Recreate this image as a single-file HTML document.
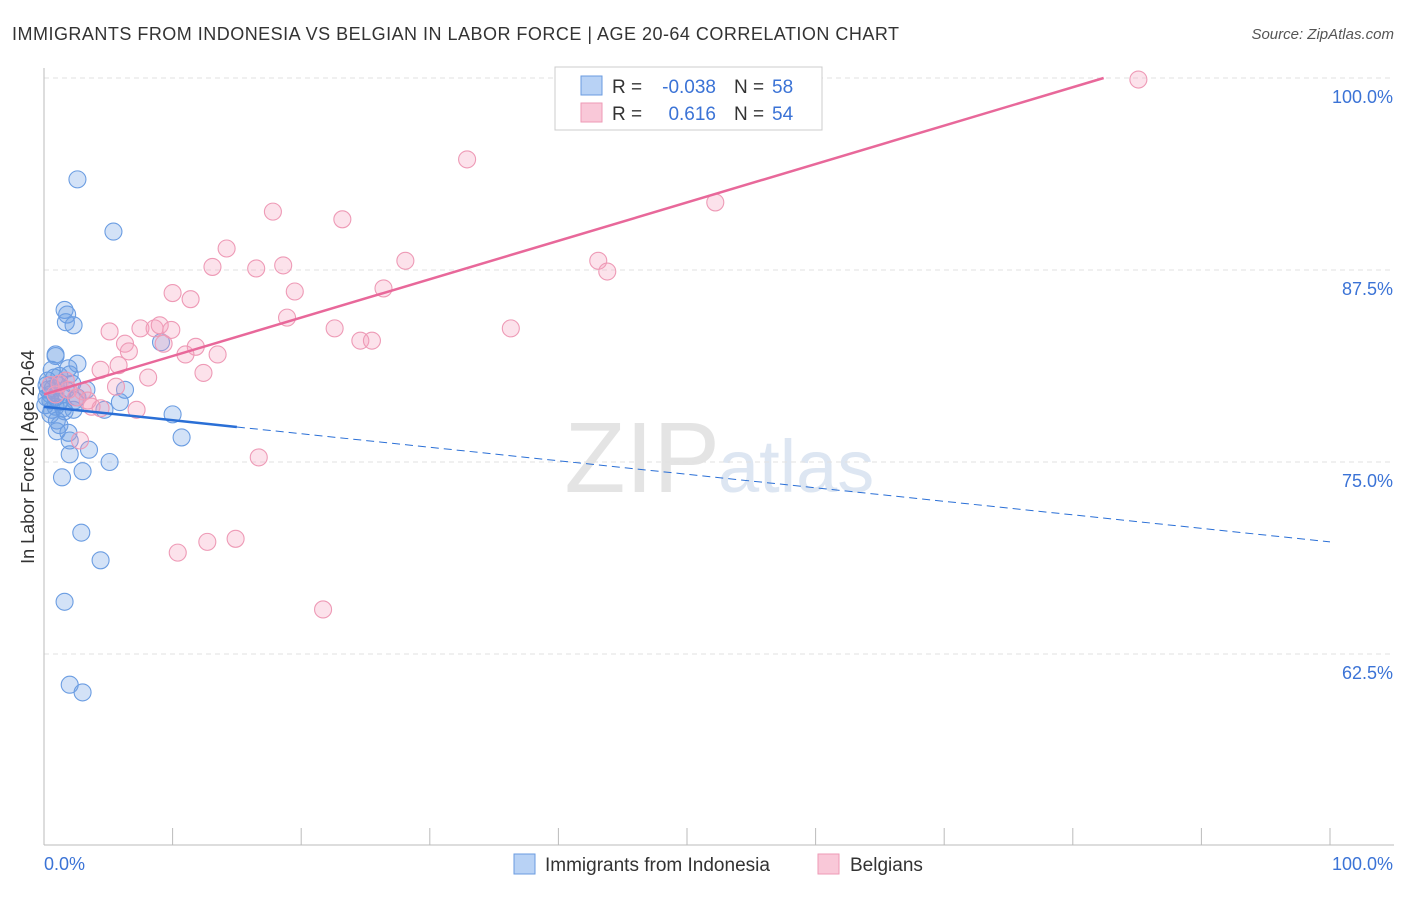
<!DOCTYPE html>
<html><head><meta charset="utf-8"><style>
body{margin:0;background:#fff;font-family:"Liberation Sans",sans-serif;}
svg text{font-family:"Liberation Sans",sans-serif;}
</style></head><body>
<svg id="chart" width="1406" height="892">
<text x="12" y="40" font-size="18" fill="#333" textLength="887">IMMIGRANTS FROM INDONESIA VS BELGIAN IN LABOR FORCE | AGE 20-64 CORRELATION CHART</text>
<text x="1394" y="39" font-size="15" fill="#555" font-style="italic" text-anchor="end">Source: ZipAtlas.com</text>
<text x="720" y="492" font-size="100" fill="#e4e4e4" text-anchor="end" font-family="Liberation Serif">ZIP</text>
<text x="718" y="492" font-size="74" fill="#dde6f2">atlas</text>
<g id="grid"></g><g id="axes"></g><g id="pts"></g><g id="trends"></g>
<text transform="translate(34,457) rotate(-90)" font-size="18" fill="#333" text-anchor="middle">In Labor Force | Age 20-64</text>
<g>
<rect x="555" y="67" width="267" height="63" fill="#fff" stroke="#ccc"/>
<rect x="581" y="76" width="21" height="19" fill="#b8d2f5" stroke="#6a9be0"/>
<rect x="581" y="103" width="21" height="19" fill="#f9c8d8" stroke="#ee9ab6"/>
<text x="612" y="93" font-size="19" fill="#333">R =</text>
<text x="716" y="93" font-size="19" fill="#3b73d6" text-anchor="end">-0.038</text>
<text x="734" y="93" font-size="19" fill="#333">N =</text>
<text x="772" y="93" font-size="19" fill="#3b73d6">58</text>
<text x="612" y="120" font-size="19" fill="#333">R =</text>
<text x="716" y="120" font-size="19" fill="#3b73d6" text-anchor="end">0.616</text>
<text x="734" y="120" font-size="19" fill="#333">N =</text>
<text x="772" y="120" font-size="19" fill="#3b73d6">54</text>
</g>
<g>
<rect x="514" y="854" width="21" height="20" fill="#b8d2f5" stroke="#6a9be0"/>
<text x="545" y="871" font-size="19" fill="#333">Immigrants from Indonesia</text>
<rect x="818" y="854" width="21" height="20" fill="#f9c8d8" stroke="#ee9ab6"/>
<text x="850" y="871" font-size="19" fill="#333">Belgians</text>
</g>
</svg>
<script>
const yTicks=[62.5,75,87.5,100];
const yTickLabels=["62.5%","75.0%","87.5%","100.0%"];
const xTickLabels=["0.0%","100.0%"];
const blueX=[2.6,5.4,1.6,1.8,1.7,2.3,0.9,0.9,2.6,0.6,1.9,1.2,0.3,2.0,3.3,6.3,0.5,0.9,1.2,2.4,1.5,0.6,2.3,4.7,5.9,10.0,1.0,1.2,1.0,1.9,2.0,2.0,3.5,5.1,1.4,3.0,10.7,2.9,4.4,1.6,2.0,3.0,9.1,0.2,0.3,0.5,0.1,1.1,1.4,0.8,1.7,2.6,0.5,1.6,0.2,0.9,2.2,0.7];
const blueY=[93.4,90.0,84.9,84.6,84.1,83.9,82.0,81.9,81.4,81.0,81.1,80.6,80.3,80.7,79.7,79.7,79.4,79.2,78.9,79.0,78.5,78.4,78.4,78.4,78.9,78.1,77.7,77.4,77.0,76.9,76.4,75.5,75.8,75.0,74.0,74.4,76.6,70.4,68.6,65.9,60.5,60.0,82.8,80.0,79.7,79.0,78.7,80.0,79.4,80.5,79.7,79.2,78.1,78.3,79.2,78.6,80.1,79.8];
const pinkX=[85.1,32.9,52.2,17.8,23.2,14.2,13.1,16.5,18.6,28.1,43.1,43.8,10.0,11.4,19.5,26.4,18.9,22.6,36.3,5.1,7.5,8.6,9.0,9.9,9.3,6.3,6.6,11.8,11.0,13.5,24.6,25.5,12.4,5.8,4.4,8.1,5.6,1.7,1.2,3.0,2.5,3.7,4.4,7.2,2.8,16.7,10.4,12.7,14.9,21.7,0.9,1.9,0.5,3.4];
const pinkY=[99.9,94.7,91.9,91.3,90.8,88.9,87.7,87.6,87.8,88.1,88.1,87.4,86.0,85.6,86.1,86.3,84.4,83.7,83.7,83.5,83.7,83.7,83.9,83.6,82.7,82.7,82.2,82.5,82.0,82.0,82.9,82.9,80.8,81.3,81.0,80.5,79.9,80.3,80.1,79.6,79.2,78.6,78.5,78.4,76.4,75.3,69.1,69.8,70.0,65.4,79.4,79.7,80.0,79.0];
const blueTrend=[78.6,69.8];
const pinkTrend=[79.4,104.4];
const blueSolidEnd=15;
const NS="http://www.w3.org/2000/svg";
const X=v=>44+v*12.86, Y=v=>78+(100-v)*15.36;
function mk(t,a,p){const e=document.createElementNS(NS,t);for(const k in a)e.setAttribute(k,a[k]);document.getElementById(p).appendChild(e);return e;}
yTicks.forEach((t,i)=>{
 const g=mk('line',{x1:44,x2:1394,y1:Y(t),y2:Y(t),stroke:'#e2e2e2','stroke-dasharray':'5,4'},'grid');
 
 
 const l=mk('text',{x:1393,y:Y(t)+25,'font-size':18,fill:'#3b73d6','text-anchor':'end'},'axes');l.textContent=yTickLabels[i];
 
 
});
const ax=mk('line',{x1:44,x2:44,y1:68,y2:845,stroke:'#bbb'},'axes');


const bx=mk('line',{x1:44,x2:1394,y1:845,y2:845,stroke:'#bbb'},'axes');


for(let i=0;i<=10;i++){const t=mk('line',{x1:X(i*10),x2:X(i*10),y1:828,y2:845,stroke:'#bbb'},'axes');
 
 }
[0,100].forEach((v,i)=>{const l=mk('text',{x:i?1393:44,y:870,'font-size':18,fill:'#3b73d6','text-anchor':i?'end':'start'},'axes');l.textContent=xTickLabels[i];
 
 });
blueX.forEach((x,i)=>{const c=mk('circle',{cx:X(x),cy:Y(blueY[i]),r:8.5,fill:'rgba(110,160,230,0.3)',stroke:'#6b9de2','stroke-width':1.1},'pts');
 
 });
pinkX.forEach((x,i)=>{const c=mk('circle',{cx:X(x),cy:Y(pinkY[i]),r:8.5,fill:'rgba(245,160,190,0.3)',stroke:'#ee9ab6','stroke-width':1.1},'pts');
 
 });
const bv=x=>blueTrend[0]+(blueTrend[1]-blueTrend[0])*x/100;
const b1=mk('line',{x1:X(0),y1:Y(bv(0)),x2:X(blueSolidEnd),y2:Y(bv(blueSolidEnd)),stroke:'#2a6fd6','stroke-width':2.5},'trends');


const b2=mk('line',{x1:X(blueSolidEnd),y1:Y(bv(blueSolidEnd)),x2:X(100),y2:Y(bv(100)),stroke:'#2a6fd6','stroke-width':1,'stroke-dasharray':'8,5'},'trends');


const pEnd=(100-pinkTrend[0])/(pinkTrend[1]-pinkTrend[0])*100;
const p1=mk('line',{x1:X(0),y1:Y(pinkTrend[0]),x2:X(Math.min(100,pEnd)),y2:Y(Math.min(100,pinkTrend[1])),stroke:'#e8689a','stroke-width':2.5},'trends');


</script>
</body></html>
